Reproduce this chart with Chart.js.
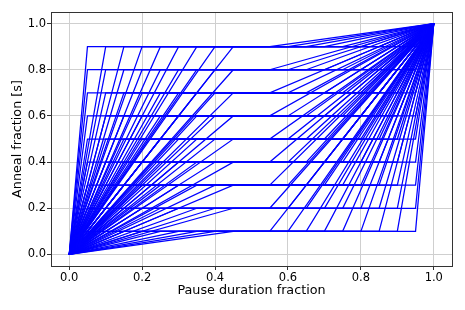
<!DOCTYPE html>
<html>
<head>
<meta charset="utf-8">
<script src="https://cdn.jsdelivr.net/npm/chart.js@4/dist/chart.umd.min.js"></script>
<style>
  html, body { margin: 0; padding: 0; background: #fff; }
  #wrap { width: 465px; height: 310px; }
</style>
</head>
<body>
<div id="wrap"><canvas id="c" width="465" height="310"></canvas></div>
<script>
// Anneal fraction levels at which the pause happens
const annealLevels = [0.1, 0.2, 0.3, 0.4, 0.5, 0.6, 0.7, 0.8, 0.9];
// Pause start positions (x) and matching pause end positions (x)
const pauseStarts = [0.05, 0.10, 0.15, 0.20, 0.25, 0.30, 0.35, 0.40, 0.45];
const pauseEnds   = [0.55, 0.60, 0.65, 0.70, 0.75, 0.80, 0.85, 0.90, 0.95];
// Schedule endpoints
const scheduleStart = [0, 0];
const scheduleEnd = [1, 1];
// Tick labels
const xTicks = [0.0, 0.2, 0.4, 0.6, 0.8, 1.0];
const yTicks = [0.0, 0.2, 0.4, 0.6, 0.8, 1.0];

const datasets = [];
annealLevels.forEach(s => {
  pauseStarts.forEach((a, i) => {
    const b = pauseEnds[i];
    datasets.push({
      data: [
        {x: scheduleStart[0], y: scheduleStart[1]},
        {x: a, y: s},
        {x: b, y: s},
        {x: scheduleEnd[0], y: scheduleEnd[1]}
      ],
      showLine: true,
      borderColor: '#0000ff',
      borderWidth: 1.25,
      pointRadius: 0,
      fill: false
    });
  });
});

const frame = {
  id: 'frame',
  afterDraw(chart) {
    const {ctx, chartArea: a} = chart;
    ctx.save();
    ctx.strokeStyle = '#333';
    ctx.lineWidth = 1;
    ctx.strokeRect(Math.round(a.left) + 0.5, Math.round(a.top) + 0.5,
                   Math.round(a.right - a.left), Math.round(a.bottom - a.top));
    ctx.restore();
  }
};

const tickFont = {family: 'DejaVu Sans', size: 11.5};
const titleFont = {family: 'DejaVu Sans', size: 12.75};

new Chart(document.getElementById('c'), {
  type: 'scatter',
  data: { datasets },
  plugins: [frame],
  options: {
    responsive: false,
    animation: false,
    devicePixelRatio: 1,
    layout: { padding: { top: 12, right: 13, left: 0, bottom: 0 } },
    plugins: { legend: { display: false }, tooltip: { enabled: false } },
    scales: {
      x: {
        type: 'linear',
        min: -0.05, max: 1.05,
        afterBuildTicks: sc => { sc.ticks = xTicks.map(v => ({value: v})); },
        afterFit: sc => { sc.height = 44; },
        ticks: {
          color: '#000', font: tickFont, padding: 1,
          maxRotation: 0,
          callback: v => Number(v).toFixed(1)
        },
        grid: { color: '#cfcfcf', lineWidth: 1, tickLength: 4, tickColor: '#333' },
        border: { color: '#333', width: 1 },
        title: {
          display: true, text: 'Pause duration fraction',
          color: '#000', font: titleFont,
          padding: { top: 0, bottom: 12 }
        }
      },
      y: {
        type: 'linear',
        min: -0.05, max: 1.05,
        afterBuildTicks: sc => { sc.ticks = yTicks.map(v => ({value: v})); },
        afterFit: sc => { sc.width = 51; },
        ticks: {
          color: '#000', font: tickFont, padding: 1,
          callback: v => Number(v).toFixed(1)
        },
        grid: { color: '#cfcfcf', lineWidth: 1, tickLength: 4, tickColor: '#333' },
        border: { color: '#333', width: 1 },
        title: {
          display: true, text: 'Anneal fraction [s]',
          color: '#000', font: titleFont,
          padding: { top: 10, bottom: 0 }
        }
      }
    }
  }
});
</script>
</body>
</html>
